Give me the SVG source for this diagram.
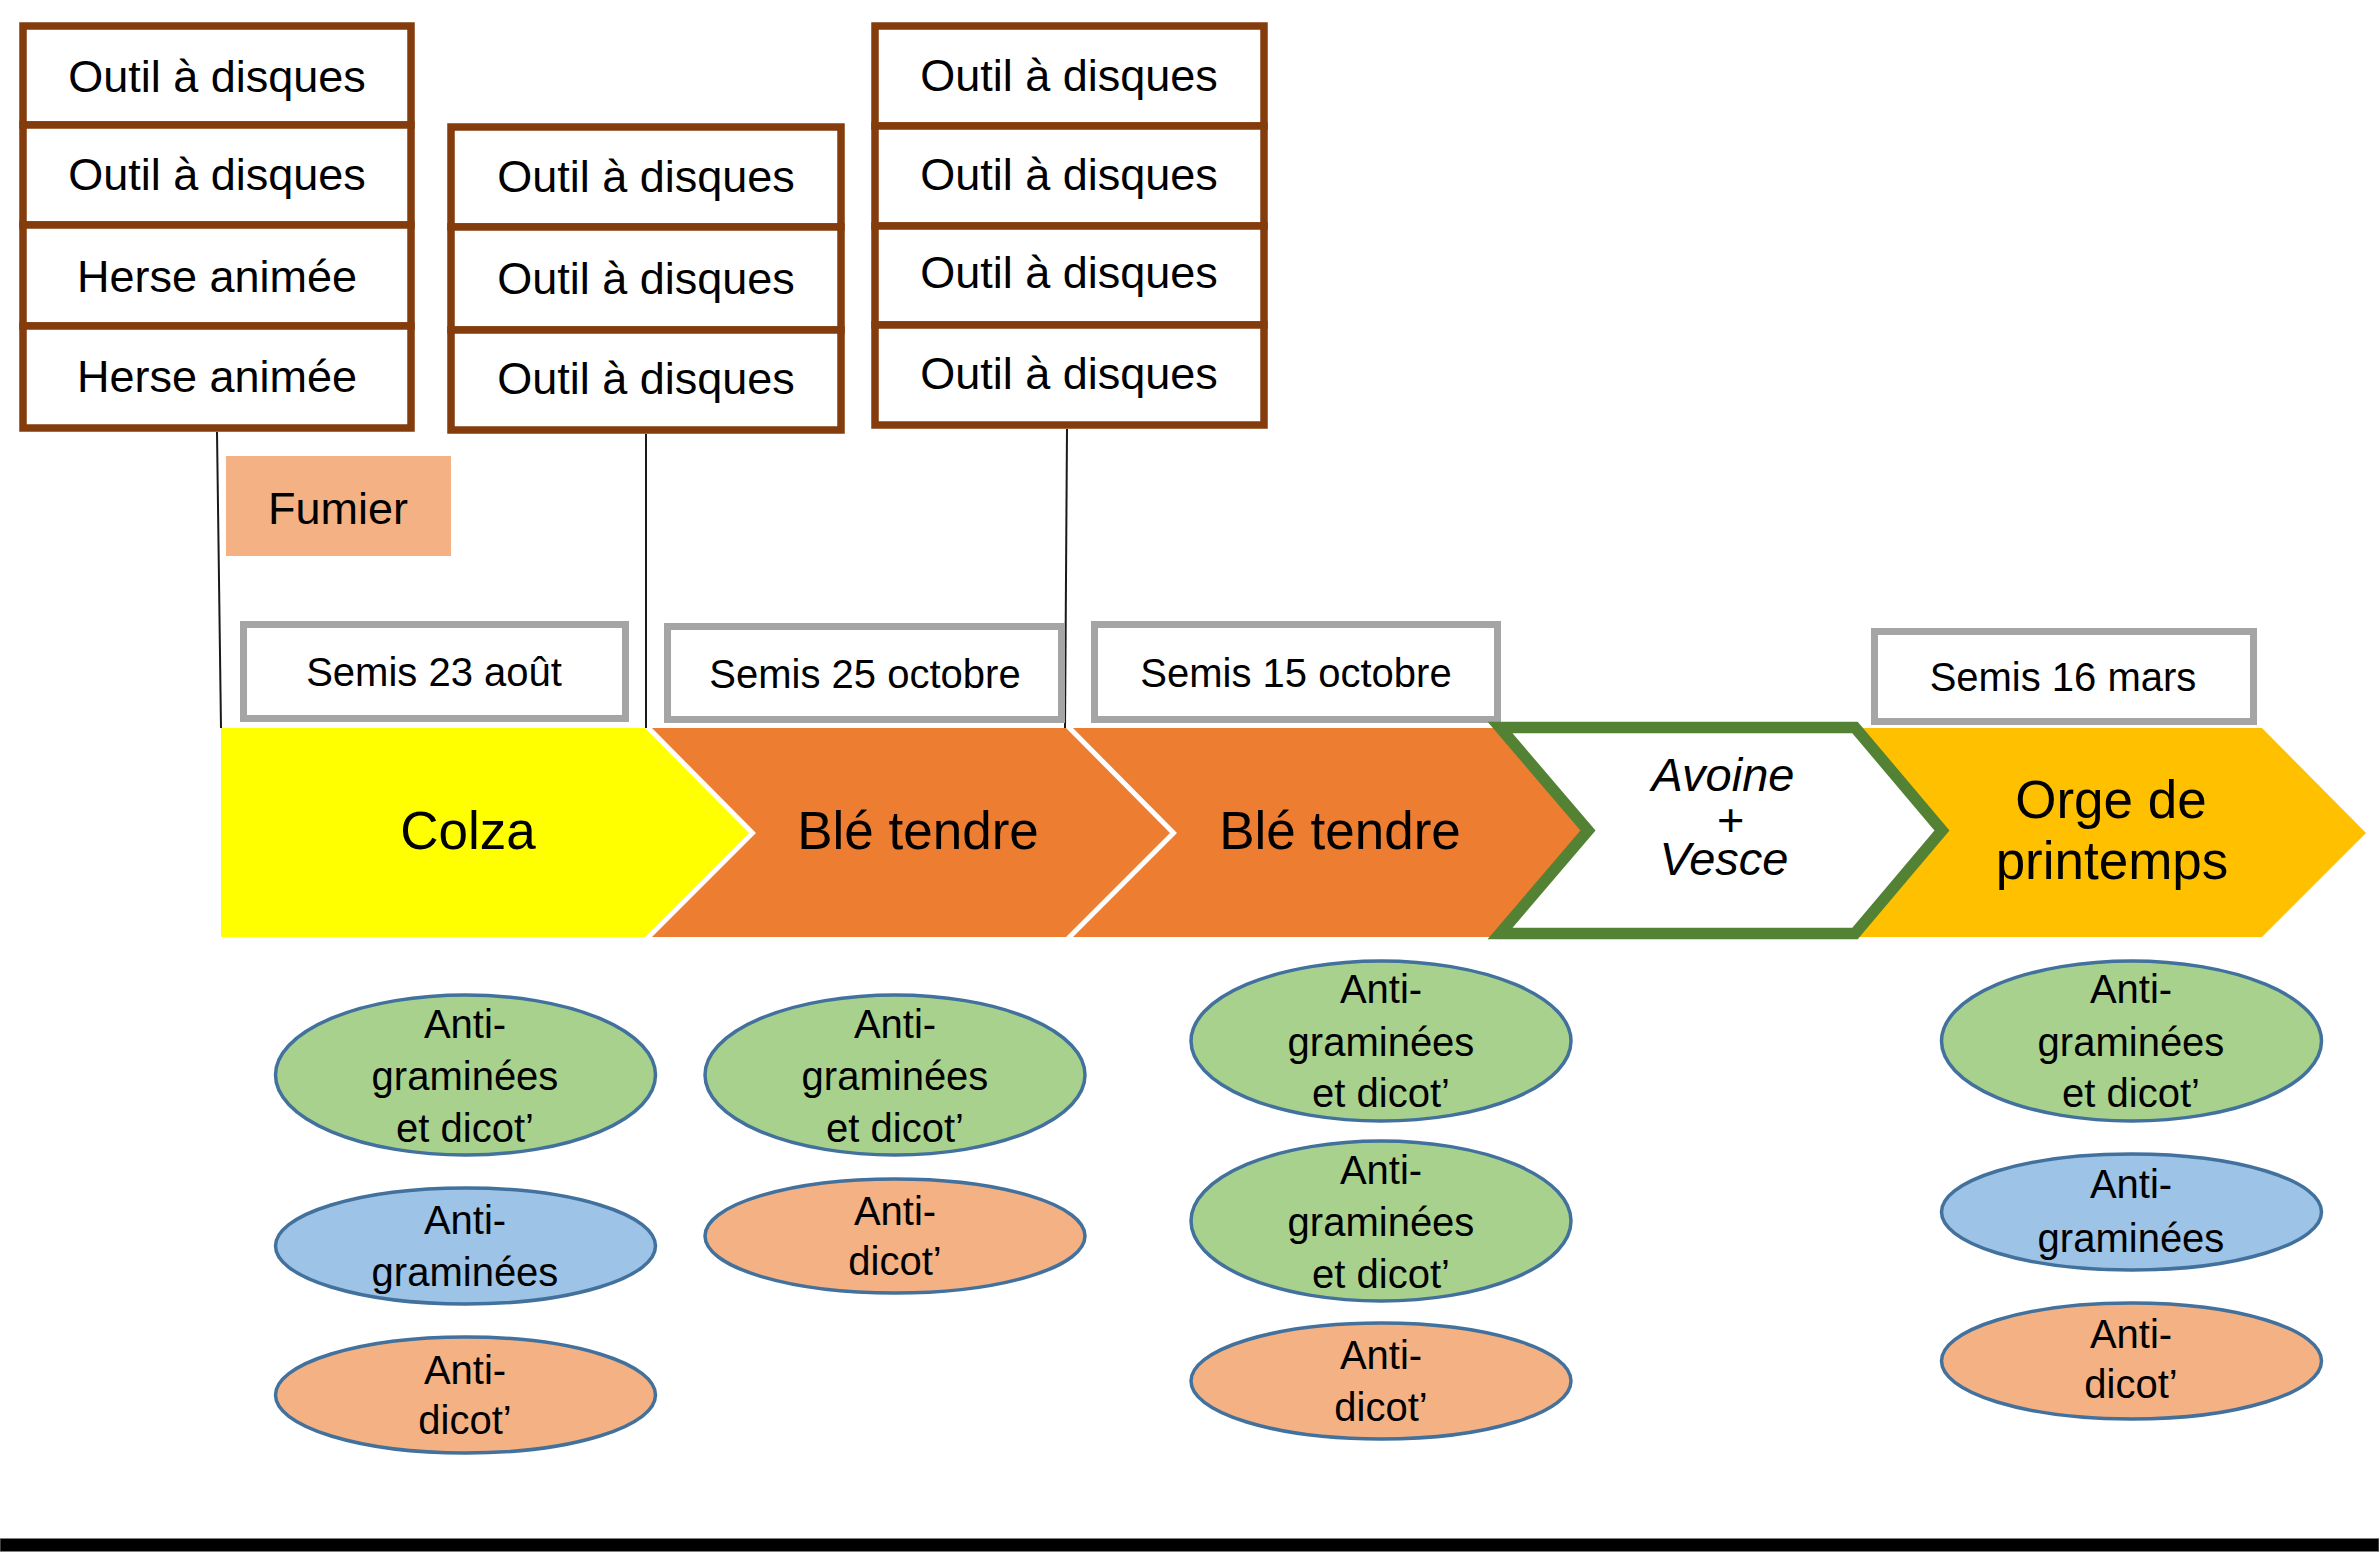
<svg xmlns="http://www.w3.org/2000/svg" width="2379" height="1554" viewBox="0 0 2379 1554">
<style>
text{font-family:"Liberation Sans",Arial,sans-serif;fill:#000;text-anchor:middle}
.tool{fill:#fff;stroke:#843C0C;stroke-width:7.5}
.t45{font-size:45px}
.semis{fill:#fff;stroke:#A5A5A5;stroke-width:7}
.t40{font-size:40px}
.crop{font-size:53px}
.ell{stroke:#41719C;stroke-width:3.5}
.g{fill:#A9D18E}.b{fill:#9DC3E6}.o{fill:#F4B183}
.conn{stroke:#1a1a1a;stroke-width:2;fill:none}
</style>
<rect x="0" y="0" width="2379" height="1554" fill="#fff"/>

<g id="connectors">
<line class="conn" x1="217" y1="432" x2="221" y2="728"/>
<line class="conn" x1="646" y1="434" x2="646" y2="728"/>
<line class="conn" x1="1067" y1="429" x2="1065" y2="728"/>
</g>

<g id="tools-colza">
<rect class="tool" x="23" y="26" width="388" height="99"/>
<rect class="tool" x="23" y="125" width="388" height="100"/>
<rect class="tool" x="23" y="225" width="388" height="101"/>
<rect class="tool" x="23" y="326" width="388" height="102"/>
<text class="t45" x="217" y="92">Outil à disques</text>
<text class="t45" x="217" y="190">Outil à disques</text>
<text class="t45" x="217" y="292">Herse animée</text>
<text class="t45" x="217" y="392">Herse animée</text>
</g>

<g id="tools-ble1">
<rect class="tool" x="451" y="127" width="390" height="100"/>
<rect class="tool" x="451" y="227" width="390" height="103"/>
<rect class="tool" x="451" y="330" width="390" height="100"/>
<text class="t45" x="646" y="192">Outil à disques</text>
<text class="t45" x="646" y="294">Outil à disques</text>
<text class="t45" x="646" y="394">Outil à disques</text>
</g>

<g id="tools-ble2">
<rect class="tool" x="875" y="26" width="389" height="100"/>
<rect class="tool" x="875" y="126" width="389" height="100"/>
<rect class="tool" x="875" y="226" width="389" height="99"/>
<rect class="tool" x="875" y="325" width="389" height="100"/>
<text class="t45" x="1069" y="91">Outil à disques</text>
<text class="t45" x="1069" y="190">Outil à disques</text>
<text class="t45" x="1069" y="288">Outil à disques</text>
<text class="t45" x="1069" y="389">Outil à disques</text>
</g>

<g id="fumier">
<rect x="226" y="456" width="225" height="100" fill="#F4B183"/>
<text class="t45" x="338" y="524">Fumier</text>
</g>

<g id="semis-1">
<rect class="semis" x="243.5" y="624.5" width="382" height="94"/>
<text class="t40" x="434" y="686">Semis 23 août</text>
</g>
<g id="semis-2">
<rect class="semis" x="667.5" y="626.5" width="394" height="93"/>
<text class="t40" x="865" y="688">Semis 25 octobre</text>
</g>
<g id="semis-3">
<rect class="semis" x="1094.5" y="624.5" width="403" height="95"/>
<text class="t40" x="1296" y="687">Semis 15 octobre</text>
</g>
<g id="semis-4">
<rect class="semis" x="1874.5" y="631.5" width="379" height="90"/>
<text class="t40" x="2063" y="691">Semis 16 mars</text>
</g>

<g id="crop-colza">
<polygon points="221,728 645,728 749,833 645,937 221,937" fill="#FFFF00"/>
<text class="crop" x="468" y="849">Colza</text>
</g>
<g id="crop-ble1">
<polygon points="652,728 1066,728 1170,833 1066,937 652,937 756,833" fill="#ED7D31"/>
<text class="crop" x="918" y="849">Blé tendre</text>
</g>
<g id="crop-ble2">
<polygon points="1073,728 1498,728 1586,833 1498,937 1073,937 1177,833" fill="#ED7D31"/>
<text class="crop" x="1340" y="849">Blé tendre</text>
</g>
<g id="crop-orge">
<polygon points="1855,728 2262,728 2366,833 2262,937 1855,937 1942,833" fill="#FFC000"/>
<text class="crop" x="2111" y="818">Orge de<tspan x="2112" y="879">printemps</tspan></text>
</g>
<g id="crop-avoine">
<polygon points="1500,727.5 1855,727.5 1942,830.5 1855,933.5 1500,933.5 1588,830.5" fill="#fff" stroke="#548235" stroke-width="11.5"/>
<text x="1723" y="791" font-size="47" font-style="italic">Avoine<tspan x="1730" y="836">+</tspan><tspan x="1724" y="875">Vesce</tspan></text>
</g>

<g id="herb-colza-1">
<ellipse class="ell g" cx="465.5" cy="1075" rx="190" ry="80"/>
<text class="t40" x="465" y="1038">Anti-</text>
<text class="t40" x="465" y="1090">graminées</text>
<text class="t40" x="465" y="1142">et dicot’</text>
</g>
<g id="herb-colza-2">
<ellipse class="ell b" cx="465.5" cy="1246" rx="190" ry="58"/>
<text class="t40" x="465" y="1234">Anti-</text>
<text class="t40" x="465" y="1286">graminées</text>
</g>
<g id="herb-colza-3">
<ellipse class="ell o" cx="465.5" cy="1395" rx="190" ry="58"/>
<text class="t40" x="465" y="1384">Anti-</text>
<text class="t40" x="465" y="1434">dicot’</text>
</g>

<g id="herb-ble1-1">
<ellipse class="ell g" cx="895" cy="1075" rx="190" ry="80"/>
<text class="t40" x="895" y="1038">Anti-</text>
<text class="t40" x="895" y="1090">graminées</text>
<text class="t40" x="895" y="1142">et dicot’</text>
</g>
<g id="herb-ble1-2">
<ellipse class="ell o" cx="895" cy="1236" rx="190" ry="57"/>
<text class="t40" x="895" y="1225">Anti-</text>
<text class="t40" x="895" y="1275">dicot’</text>
</g>

<g id="herb-ble2-1">
<ellipse class="ell g" cx="1381" cy="1041" rx="190" ry="80"/>
<text class="t40" x="1381" y="1003">Anti-</text>
<text class="t40" x="1381" y="1056">graminées</text>
<text class="t40" x="1381" y="1107">et dicot’</text>
</g>
<g id="herb-ble2-2">
<ellipse class="ell g" cx="1381" cy="1221" rx="190" ry="80"/>
<text class="t40" x="1381" y="1184">Anti-</text>
<text class="t40" x="1381" y="1236">graminées</text>
<text class="t40" x="1381" y="1288">et dicot’</text>
</g>
<g id="herb-ble2-3">
<ellipse class="ell o" cx="1381" cy="1381" rx="190" ry="58"/>
<text class="t40" x="1381" y="1369">Anti-</text>
<text class="t40" x="1381" y="1421">dicot’</text>
</g>

<g id="herb-orge-1">
<ellipse class="ell g" cx="2131.5" cy="1041" rx="190" ry="80"/>
<text class="t40" x="2131" y="1003">Anti-</text>
<text class="t40" x="2131" y="1056">graminées</text>
<text class="t40" x="2131" y="1107">et dicot’</text>
</g>
<g id="herb-orge-2">
<ellipse class="ell b" cx="2131.5" cy="1212" rx="190" ry="58"/>
<text class="t40" x="2131" y="1198">Anti-</text>
<text class="t40" x="2131" y="1252">graminées</text>
</g>
<g id="herb-orge-3">
<ellipse class="ell o" cx="2131.5" cy="1361" rx="190" ry="58"/>
<text class="t40" x="2131" y="1348">Anti-</text>
<text class="t40" x="2131" y="1398">dicot’</text>
</g>

<rect x="0" y="1538.5" width="2379" height="13" fill="#000" stroke="#808080" stroke-width="1"/>
</svg>
